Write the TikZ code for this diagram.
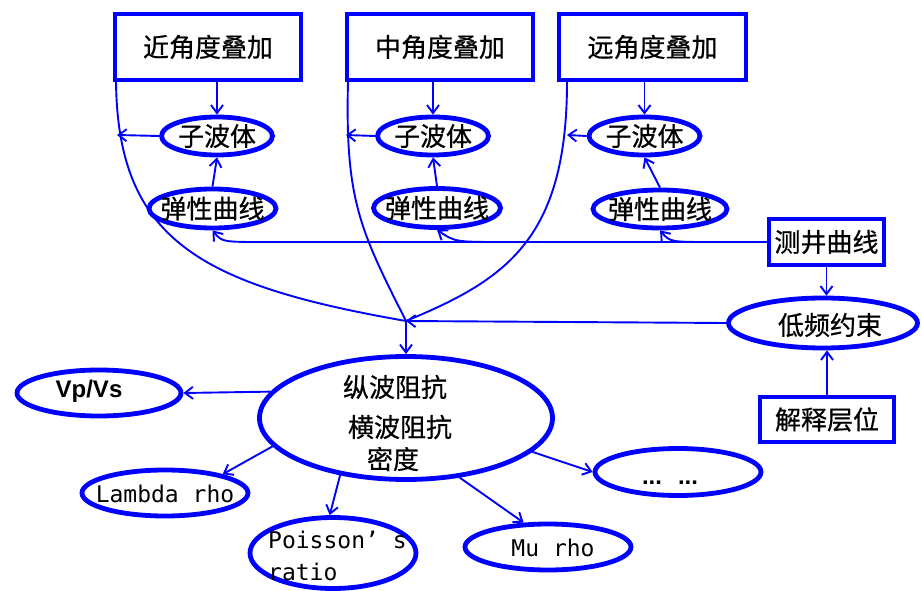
\documentclass[tikz,border=0pt]{standalone}
\usepackage{fontspec}
\setmainfont{Noto Sans CJK SC}[FakeBold=0.6]
\newfontfamily\monof{DejaVu Sans Mono}
\newfontfamily\boldf{Liberation Sans}
\usetikzlibrary{shapes.geometric,arrows.meta}
\definecolor{lineblue}{RGB}{0,0,255}
\tikzset{
 boxn/.style={draw=lineblue, line width=4.5pt, rectangle, inner sep=0pt, font=\fontsize{26}{30}\selectfont},
 elln/.style={draw=lineblue, line width=4.8pt, ellipse, inner sep=0pt},
 lbl/.style={inner sep=0pt, font=\fontsize{26}{30}\selectfont},
 latn/.style={inner sep=0pt, font=\monof\fontsize{23}{26}\selectfont},
 arr/.style={draw=lineblue, line width=1.9pt, -{Straight Barb[length=8pt,width=12pt]}},
 conn/.style={draw=lineblue, line width=1.9pt},
}
\begin{document}
\begin{tikzpicture}[x=1pt,y=-1pt]
\useasboundingbox (0,0) rectangle (922,591);
% boxes
\node[boxn, minimum width=186pt, minimum height=66pt] (b1) at (208,47) {近角度叠加};
\node[boxn, minimum width=186pt, minimum height=66pt] (b2) at (440,47) {中角度叠加};
\node[boxn, minimum width=187pt, minimum height=66pt] (b3) at (652.5,47) {远角度叠加};
\node[boxn, minimum width=115pt, minimum height=46pt] (jq) at (826.5,242) {测井曲线};
\node[boxn, minimum width=134pt, minimum height=45pt] (js) at (827,419.5) {解释层位};
% ellipses
\node[elln, minimum width=111pt, minimum height=38pt] (zb1) at (217,136) {};
\node[lbl] (zb1t) at (217,136) {子波体};
\node[elln, minimum width=111pt, minimum height=38pt] (zb2) at (433,136) {};
\node[lbl] (zb2t) at (433,136) {子波体};
\node[elln, minimum width=111pt, minimum height=38pt] (zb3) at (644.5,136) {};
\node[lbl] (zb3t) at (644.5,136) {子波体};
\node[elln, minimum width=127pt, minimum height=39pt] (tx1) at (212.5,208.5) {};
\node[lbl] (tx1t) at (212.5,208.5) {弹性曲线};
\node[elln, minimum width=127pt, minimum height=39pt] (tx2) at (437,208) {};
\node[lbl] (tx2t) at (437,208) {弹性曲线};
\node[elln, minimum width=134pt, minimum height=38pt] (tx3) at (660,209) {};
\node[lbl] (tx3t) at (660,209) {弹性曲线};
\node[elln, minimum width=189pt, minimum height=50pt] (dp) at (823,323) {};
\node[lbl] (dpt) at (830,325) {低频约束};
\node[elln, minimum width=293pt, minimum height=123pt] (main) at (406,418) {};
\node[lbl] (m1) at (395,387) {纵波阻抗};
\node[lbl] (m2) at (400,427) {横波阻抗};
\node[lbl] (m3) at (393,459) {密度};
\node[elln, minimum width=164pt, minimum height=46pt] (vp) at (99,393) {};
\node[inner sep=0pt, font=\boldf\bfseries\fontsize{24}{28}\selectfont] (vpt) at (89,391) {Vp/Vs};
\node[elln, minimum width=166pt, minimum height=46pt] (lam) at (165,493) {};
\node[latn] (lamt) at (165,494) {Lambda rho};
\node[elln, minimum width=166pt, minimum height=71pt] (poi) at (333,553) {};
\node[latn, anchor=west] (poi1) at (268,540) {Poisson’ s};
\node[latn, anchor=west] (poi2) at (268,572) {ratio};
\node[elln, minimum width=166pt, minimum height=46pt] (mu) at (548,547) {};
\node[latn] (mut) at (553,548) {Mu rho};
\node[elln, minimum width=166pt, minimum height=47pt] (dots) at (678,472) {};
\node[inner sep=0pt, font=\boldf\bfseries\fontsize{24}{28}\selectfont] (dotst) at (670,483) {...\hspace{16pt}...};
% coordinates
\coordinate (j) at (406,321);
\coordinate (s1) at (116,82);
\coordinate (s2) at (348,82);
\coordinate (s3) at (567,82);
\coordinate (cA) at (117,135);
\coordinate (cB) at (346,135);
\coordinate (cC) at (567,135);
\coordinate (k2) at (505,242);
\coordinate (k3) at (712,242);
% top arrows
\draw[arr] (b1.south -| zb1) -- (zb1.north);
\draw[arr] (b2.south -| zb2) -- (zb2.north);
\draw[arr] (b3.south -| zb3) -- (zb3.north);
\draw[arr] (tx1.north) -- (zb1.south);
\draw[arr] (tx2.north) -- (zb2.south);
\draw[arr] (tx3.north) -- (zb3.south);
\draw[arr] (zb1.west) -- (cA);
\draw[arr] (zb2.west) -- (cB);
\draw[arr] (zb3.west) -- (cC);
% curves
\draw[conn] (s1) .. controls (118,240) and (200,285) .. (j);
\draw[conn] (s2) .. controls (345,200) and (360,230) .. (j);
\draw[conn] (s3) .. controls (567,240) and (505,280) .. (j);
% well log lines
\draw[arr] (jq.west) -- (265,242) .. controls (222,242) .. (tx1.south);
\draw[arr] (k2) .. controls (455,242) .. (tx2.south);
\draw[arr] (k3) .. controls (670,242) .. (tx3.south);
% low freq
\draw[arr] (jq.south) -- (dp.north -| jq.south);
\draw[arr] (js.north) -- (dp.south -| js.north);
\draw[arr] (dp.west) -- (j);
\draw[arr] (j) -- (main.north);
% outputs
\draw[arr] (main.169) -- (vp.east);
\draw[arr] (main.192) -- (lam.18);
\draw[arr] (main.221) -- (poi.95);
\draw[arr] (main.-48) -- (mu.135);
\draw[arr] (main.-15) -- (dots.west);
\end{tikzpicture}
\end{document}
